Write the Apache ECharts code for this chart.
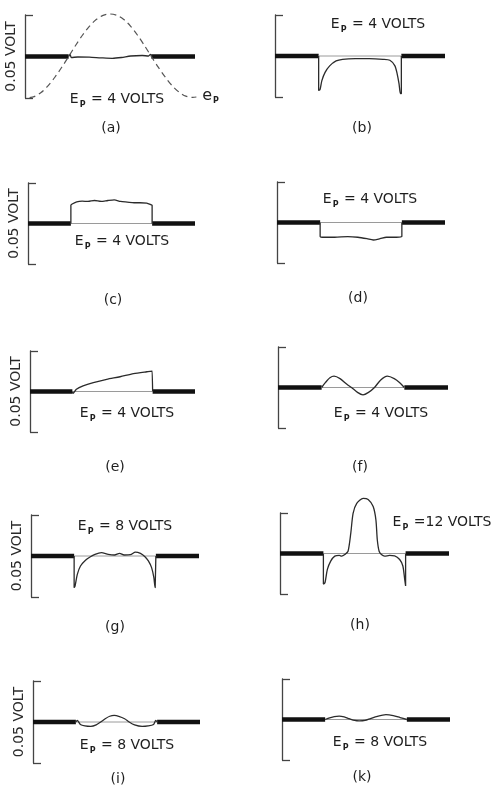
<!DOCTYPE html>
<html>
<head>
<meta charset="utf-8">
<title>Plate signal traces</title>
<script src="https://cdn.jsdelivr.net/npm/echarts@6/dist/echarts.min.js"></script>
<style>
  html, body { margin: 0; padding: 0; background: #ffffff; }
  #chart { width: 496px; height: 785px; }
</style>
</head>
<body>
<div id="chart"></div>
<script>
// Phase in degrees (0..180 = the half cycle the plate is driven), signal in millivolts.
const captions = ['(a)', '(b)', '(c)', '(d)', '(e)', '(f)', '(g)', '(h)', '(i)', '(k)'];
const plateVolts = [4, 4, 4, 4, 4, 4, 8, 12, 8, 8];
const scaleSpan = [-25, 25];          // the 0.05 volt bracket
const restSpans = [[-95, 0], [180, 275]];

const plateSwing = [[-85, -24.8], [-75, -24.2], [-60, -21.7], [-45, -17.7], [-30, -12.5], [-15, -6.5],
  [0, 0], [15, 6.6], [30, 12.8], [45, 18.2], [60, 22.3], [75, 24.8], [90, 25.6], [105, 24.8],
  [120, 22.3], [135, 18.2], [150, 12.8], [165, 6.6], [180, 0], [195, -6.4], [210, -12.3],
  [225, -17.5], [240, -21.4], [255, -23.9], [270, -24.6], [278, -24.4]];

const traceA = [[0, 0], [3, 1.2], [6, -0.6], [20, -0.3], [45, -0.4], [70, -0.8], [95, -1.1],
  [115, -0.6], [135, 0.3], [160, 0.6], [174, 0.3], [178, 1.2], [182, 0]];
const traceB = [[0, 0], [0, -21], [3, -20.5], [7, -15], [14, -10], [24, -6], [38, -3], [52, -2],
  [80, -1.6], [110, -1.6], [140, -2], [155, -2.6], [166, -6], [171, -11], [175, -17], [178, -23],
  [180, -23], [180, 0]];
const traceC = [[0, 0], [0, 11.2], [4, 12.2], [13, 13.4], [25, 13.8], [38, 13.6], [52, 14.2],
  [67, 13.6], [82, 14.2], [96, 14.6], [110, 13.6], [125, 13.2], [140, 12.8], [153, 12.8],
  [168, 12.6], [178, 11.5], [180, 11.2], [180, 0]];
const traceD = [[0, 0], [0, -8.7], [4, -9.1], [32, -9.1], [61, -8.7], [83, -9.1], [103, -10],
  [117, -10.8], [132, -10], [146, -9.1], [168, -9.1], [180, -8.7], [180, 0]];
const traceE = [[0, 0], [1.5, -1.2], [9, 1.4], [24, 3.5], [47, 5.5], [77, 7.5], [107, 9.1],
  [137, 11], [167, 12.2], [179, 12.6], [180, 12.6], [180, 0]];
const traceF = [[0, 0], [8, 3], [18, 6], [27, 7], [40, 5.5], [55, 2], [65, 0], [78, -3], [90, -4.5],
  [102, -3], [115, 0], [128, 4.5], [143, 7], [158, 5.5], [170, 3], [180, 0]];
const traceG = [[0, 0], [0, -19.3], [2, -18.3], [7, -11.2], [14, -6.1], [25, -2.6], [35, -0.6],
  [46, 1], [60, 2], [75, 1], [89, 0.6], [100, 1.6], [110, 0.6], [124, 0.8], [135, 2.4], [146, 1.6],
  [156, -0.4], [163.5, -3], [170.6, -7.1], [175.6, -13.2], [178.5, -19.3], [180, -19.3], [180, 0]];
const traceH = [[0, 0], [0, -18.9], [3.6, -17.9], [8.7, -9.8], [16, -4.7], [25, -1.6], [35, -1.2],
  [40, -1.6], [47, -0.6], [54, 1.4], [60, 12.6], [65, 24.8], [73, 31], [87, 34], [98, 33.4],
  [109, 29], [115, 20.7], [118, 8.5], [122, 1.4], [127, -0.6], [134, -1.6], [145, -1.2],
  [156, -1.4], [167, -3.7], [174, -7.7], [178, -16], [180, -20], [180, 0]];
const traceI = [[0, 0], [3, 1], [10, -1.5], [20, -2.4], [33, -2.7], [45, -1.8], [55, 0], [65, 2],
  [75, 3.5], [85, 4], [95, 3.5], [108, 2], [118, 0], [130, -1.8], [147, -2.7], [160, -2.4],
  [172, -1.5], [177, 1], [180, 0]];
const traceK = [[0, 0], [10, 1], [20, 1.8], [31, 2.1], [42, 1.6], [53, 0.5], [65, -0.6], [75, -0.9],
  [88, -0.6], [100, 0.6], [115, 2], [134, 3], [150, 2.4], [165, 1.2], [180, 0]];

const traces = [traceA, traceB, traceC, traceD, traceE, traceF, traceG, traceH, traceI, traceK];

// Placement of each small panel on the page.
const panels = [
  { left: 25,  top: 15,  width: 170, height: 83, named: true,  label: [117, 100], cap: [111, 128] },
  { left: 275, top: 15,  width: 170, height: 82, named: false, label: [378, 25],  cap: [362, 128] },
  { left: 28,  top: 183, width: 167, height: 81, named: true,  label: [122, 242], cap: [113, 300] },
  { left: 277, top: 182, width: 168, height: 81, named: false, label: [370, 200], cap: [358, 298] },
  { left: 30,  top: 351, width: 165, height: 81, named: true,  label: [127, 414], cap: [115, 467] },
  { left: 278, top: 347, width: 170, height: 81, named: false, label: [381, 414], cap: [360, 467] },
  { left: 31,  top: 515, width: 168, height: 82, named: true,  label: [125, 527], cap: [115, 627] },
  { left: 280, top: 513, width: 169, height: 81, named: false, label: [442, 523], cap: [360, 625] },
  { left: 33,  top: 681, width: 167, height: 82, named: true,  label: [127, 746], cap: [118, 779] },
  { left: 282, top: 679, width: 168, height: 81, named: false, label: [380, 743], cap: [362, 777] }
];

const ink = '#1e1e1e';
const font = '"DejaVu Sans", "Liberation Sans", sans-serif';

// main letters sit at the top of the line; the subscript is pushed down by its padding
function richStyles(mainSize) {
  return {
    e: { fontSize: mainSize, fontFamily: font, fill: ink, color: ink, lineHeight: 18, verticalAlign: 'top' },
    p: { fontSize: 8, fontFamily: font, fontWeight: 'bold', fill: ink, color: ink,
         lineHeight: 11, verticalAlign: 'top', padding: [9, 1, 0, 1] },
    t: { fontSize: 14, fontFamily: font, fill: ink, color: ink, lineHeight: 18, verticalAlign: 'top' }
  };
}

const grid = [], xAxis = [], yAxis = [], series = [], graphic = [];

panels.forEach(function (p, i) {
  grid.push({ left: p.left, top: p.top, width: p.width, height: p.height, containLabel: false });
  xAxis.push({
    gridIndex: i, type: 'value', min: -95, max: 275, show: false
  });
  yAxis.push({
    gridIndex: i, type: 'value', min: scaleSpan[0], max: scaleSpan[1],
    axisLine: { show: true, onZero: false, lineStyle: { color: '#444', width: 1.3 } },
    axisTick: { show: true, inside: true, length: 8, customValues: scaleSpan,
      lineStyle: { color: '#444', width: 1.3 } },
    axisLabel: { show: false },
    splitLine: { show: false },
    name: p.named ? '0.05 VOLT' : '',
    nameLocation: 'middle',
    nameRotate: 90,
    nameGap: 7,
    nameTextStyle: { color: '#2a2a2a', fontSize: 14, fontFamily: font }
  });

  const common = { type: 'line', xAxisIndex: i, yAxisIndex: i, symbol: 'none', silent: true,
    animation: false, clip: false };

  // resting trace on either side of the pulse
  restSpans.forEach(function (s) {
    series.push(Object.assign({}, common, {
      data: [[s[0], 0], [s[1], 0]],
      lineStyle: { color: '#111', width: 4.5, cap: 'butt' }
    }));
  });
  // zero reference through the pulse
  if (i > 0) {
    series.push(Object.assign({}, common, {
      data: [[restSpans[0][1], 0], [restSpans[1][0], 0]],
      lineStyle: { color: '#9a9a9a', width: 1 }
    }));
  }
  // the recorded signal
  series.push(Object.assign({}, common, {
    data: traces[i],
    smooth: 0.25,
    lineStyle: { color: '#2b2b2b', width: 1.3 }
  }));

  graphic.push({
    type: 'text', x: p.label[0], y: p.label[1] + 1, silent: true,
    style: {
      text: '{e|E}{p|P}{t| ' + (i === 7 ? '=' : '= ') + plateVolts[i] + ' VOLTS}',
      textAlign: 'center', align: 'center', textVerticalAlign: 'middle', verticalAlign: 'middle',
      rich: richStyles(14)
    }
  });
  graphic.push({
    type: 'text', x: p.cap[0], y: p.cap[1], silent: true,
    style: {
      text: captions[i], font: '14px ' + font, fill: ink,
      textAlign: 'center', align: 'center', textVerticalAlign: 'middle', verticalAlign: 'middle'
    }
  });
});

// plate voltage swing, drawn dashed in panel (a)
series.push({
  type: 'line', xAxisIndex: 0, yAxisIndex: 0, symbol: 'none', silent: true, animation: false,
  clip: false, smooth: 0.3, data: plateSwing,
  lineStyle: { color: '#555', width: 1.2, type: [6, 4] }
});
graphic.push({
  type: 'text', x: 211, y: 97, silent: true,
  style: {
    text: '{e|e}{p|P}',
    textAlign: 'center', align: 'center', textVerticalAlign: 'middle', verticalAlign: 'middle',
    rich: richStyles(16)
  }
});

const chart = echarts.init(document.getElementById('chart'), null, { renderer: 'canvas' });
chart.setOption({
  backgroundColor: '#ffffff',
  animation: false,
  grid: grid,
  xAxis: xAxis,
  yAxis: yAxis,
  series: series,
  graphic: graphic
});
</script>
</body>
</html>
